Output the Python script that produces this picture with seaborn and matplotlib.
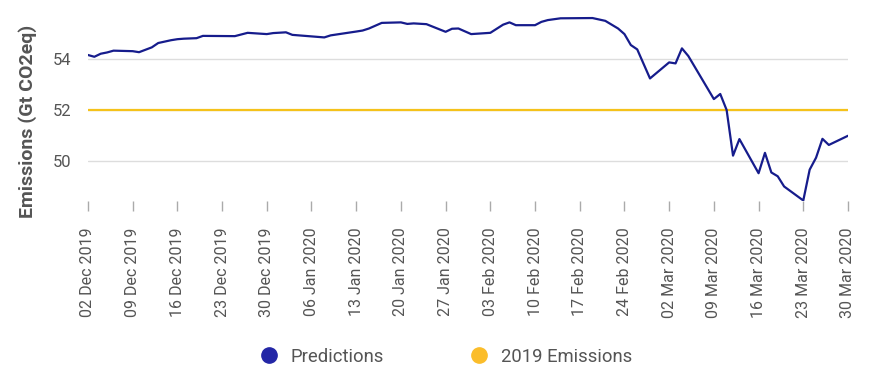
import pandas as pd
import matplotlib.pyplot as plt
import matplotlib.dates as mdates
from matplotlib.lines import Line2D
import seaborn as sns

# predictions (vertices of the daily curve)
pred_dates = ["2019-12-02", "2019-12-03", "2019-12-04", "2019-12-05", "2019-12-06",
              "2019-12-09", "2019-12-10", "2019-12-12", "2019-12-13", "2019-12-15",
              "2019-12-16", "2019-12-17", "2019-12-19", "2019-12-20", "2019-12-25",
              "2019-12-27", "2019-12-30", "2019-12-31", "2020-01-02", "2020-01-03",
              "2020-01-08", "2020-01-09", "2020-01-13", "2020-01-14", "2020-01-15",
              "2020-01-17", "2020-01-20", "2020-01-21", "2020-01-22", "2020-01-24",
              "2020-01-27", "2020-01-28", "2020-01-29", "2020-01-31", "2020-02-03",
              "2020-02-05", "2020-02-06", "2020-02-07", "2020-02-10", "2020-02-11",
              "2020-02-12", "2020-02-14", "2020-02-19", "2020-02-21", "2020-02-23",
              "2020-02-24", "2020-02-25", "2020-02-26", "2020-02-28", "2020-03-02",
              "2020-03-03", "2020-03-04", "2020-03-05", "2020-03-09", "2020-03-10",
              "2020-03-11", "2020-03-12", "2020-03-13", "2020-03-16", "2020-03-17",
              "2020-03-18", "2020-03-19", "2020-03-20", "2020-03-23", "2020-03-24",
              "2020-03-25", "2020-03-26", "2020-03-27", "2020-03-30"]
pred_values = [54.16, 54.09, 54.21, 54.26, 54.33,
               54.31, 54.27, 54.46, 54.63, 54.74,
               54.78, 54.80, 54.82, 54.91, 54.90,
               55.03, 54.98, 55.02, 55.05, 54.95,
               54.85, 54.93, 55.08, 55.12, 55.20,
               55.42, 55.44, 55.38, 55.40, 55.37,
               55.07, 55.19, 55.20, 54.98, 55.03,
               55.35, 55.44, 55.33, 55.33, 55.46,
               55.53, 55.60, 55.61, 55.50, 55.20,
               54.98, 54.55, 54.38, 53.24, 53.87,
               53.83, 54.42, 54.12, 52.43, 52.63,
               52.00, 50.21, 50.86, 49.52, 50.32,
               49.55, 49.40, 49.00, 48.45, 49.66,
               50.13, 50.87, 50.63, 50.99]

baseline_dates = ["2019-12-02", "2020-03-30"]
baseline_2019 = [52.0, 52.0]

tick_dates = pd.date_range("2019-12-02", "2020-03-30", freq="7D")

pred = pd.DataFrame({"date": pd.to_datetime(pred_dates), "value": pred_values})
base = pd.DataFrame({"date": pd.to_datetime(baseline_dates), "value": baseline_2019})

navy = "#161C8C"
gold = "#F5C21B"
grey = "#555555"

sns.set_style("white")
plt.rcParams["font.family"] = ["Roboto", "DejaVu Sans"]

fig = plt.figure(figsize=(8.7, 3.71), dpi=100)
ax = fig.add_axes([0.1011, 0.4582, 0.8736, 0.5014])

sns.lineplot(data=base, x="date", y="value", ax=ax, color=gold, linewidth=1.6)
sns.lineplot(data=pred, x="date", y="value", ax=ax, color=navy, linewidth=1.6)

ax.set_xlim(pred["date"].min(), pred["date"].max())
ax.set_ylim(48.43, 55.73)
ax.set_yticks([50, 52, 54])
ax.yaxis.grid(True, color="#dddddd", linewidth=1)
ax.set_axisbelow(True)

ax.set_xticks(tick_dates)
ax.xaxis.set_major_formatter(mdates.DateFormatter("%d %b %Y"))
ax.tick_params(axis="x", rotation=90, labelsize=11.5, labelcolor=grey,
               length=7, width=1, color="#aaaaaa", pad=12, bottom=True)
ax.tick_params(axis="y", labelsize=12, labelcolor=grey, length=0, pad=12)

ax.set_xlabel("")
ax.set_ylabel("Emissions (Gt CO2eq)", fontsize=14, fontweight="bold", color=grey)
ax.yaxis.set_label_coords(-0.067, 0.43)
for s in ax.spines.values():
    s.set_visible(False)

handles = [
    Line2D([], [], marker="o", linestyle="", markersize=11, color="#2326A6"),
    Line2D([], [], marker="o", linestyle="", markersize=11, color="#FBBD2A"),
]
fig.legend(handles, ["Predictions", "2019 Emissions"], loc="center",
           bbox_to_anchor=(0.5124, 0.038), ncol=2, frameon=False,
           fontsize=13.3, labelcolor=grey, handlelength=1.0,
           columnspacing=4.7, handletextpad=0.66)

fig.savefig("out.png", dpi=100)
